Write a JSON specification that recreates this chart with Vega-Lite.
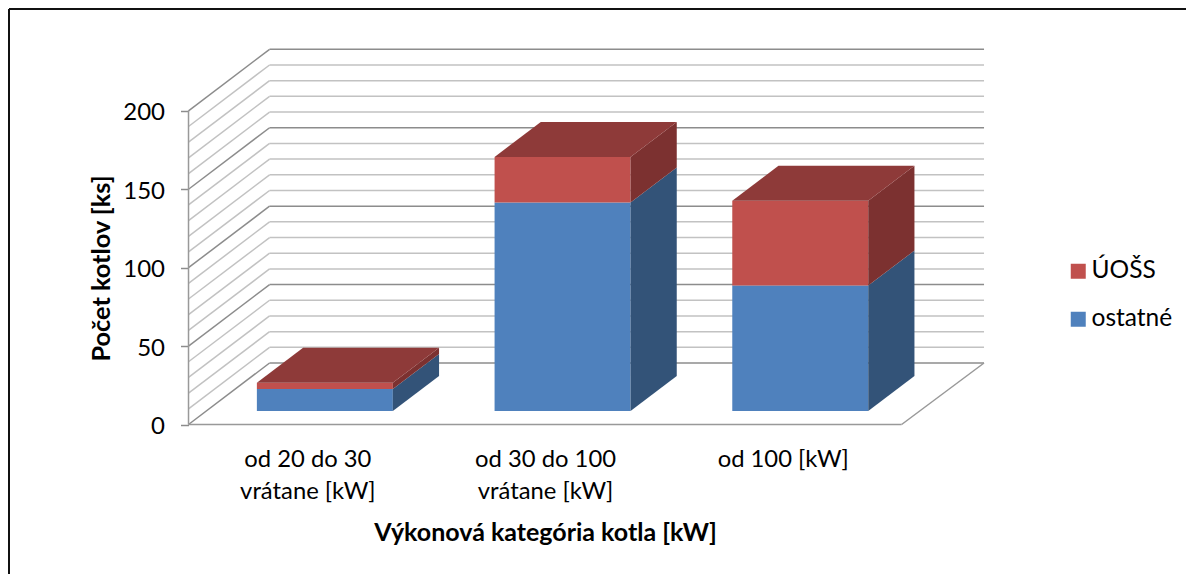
{
"$schema":"https://vega.github.io/schema/vega-lite/v6.json",
"width":1177,"height":565,
"autosize":{"type":"none"},
"padding":{"left":9,"top":9,"right":0,"bottom":0},
"background":"white",
"config":{"view":{"stroke":null},"font":"Lato"},
"datasets":{
"kotly":[
{"kat":"od 20 do 30 vrátane [kW]","serie":"ostatné","pocet":14},
{"kat":"od 20 do 30 vrátane [kW]","serie":"ÚOŠS","pocet":4},
{"kat":"od 30 do 100 vrátane [kW]","serie":"ostatné","pocet":133},
{"kat":"od 30 do 100 vrátane [kW]","serie":"ÚOŠS","pocet":29},
{"kat":"od 100 [kW]","serie":"ostatné","pocet":80},
{"kat":"od 100 [kW]","serie":"ÚOŠS","pocet":54}],
"mriezka":[{"v":0},{"v":10},{"v":20},{"v":30},{"v":40},{"v":50},{"v":60},{"v":70},{"v":80},{"v":90},{"v":100},{"v":110},{"v":120},{"v":130},{"v":140},{"v":150},{"v":160},{"v":170},{"v":180},{"v":190},{"v":200}]
},
"encoding":{
"x":{"field":"xa","type":"quantitative","scale":{"domain":[-0.7552,4.1964],"nice":false,"zero":false},
"axis":{"values":[0.5,1.5,2.5],"labelExpr":"datum.value==0.5?['od 20 do 30','vrátane [kW]']:datum.value==1.5?['od 30 do 100','vrátane [kW]']:'od 100 [kW]'","orient":"bottom","offset":-149.5,"ticks":false,"domain":false,"grid":false,"labelFontSize":23.8,"labelColor":"#000000","labelPadding":23,"labelLineHeight":32,"labelBaseline":"top","labelFlush":false,"title":"Výkonová kategória kotla [kW]","titleFontSize":25,"titleFontWeight":"bold","titleColor":"#000000","titleX":536,"titleY":96,"titleAnchor":"middle"}},
"y":{"field":"ya","type":"quantitative","scale":{"domain":[-95.31,264.9],"nice":false,"zero":false},
"axis":{"values":[0,50,100,150,200],"orient":"left","offset":-179.5,"domain":false,"grid":false,"tickColor":"#8c8c8c","tickWidth":1.5,"tickSize":8,"labelFontSize":24,"labelColor":"#000000","labelPadding":16,"labelOffset":2,"title":"Počet kotlov [ks]","titleFontSize":25.3,"titleFontWeight":"bold","titleColor":"#000000","titleX":-74,"titleY":259,"titleAngle":-90,"titleAnchor":"middle"}}
},
"layer":[
{"data":{"name":"mriezka"},
"transform":[{"calculate":"0","as":"xa"},{"calculate":"0.341","as":"xb"},{"calculate":"datum.v","as":"ya"},{"calculate":"datum.v+39.2","as":"yb"}],
"mark":{"type":"rule","strokeWidth":1.5},
"encoding":{"x2":{"field":"xb"},"y2":{"field":"yb"},"stroke":{"condition":{"test":"datum.v%50==0","value":"#8c8c8c"},"value":"#c2c2c2"}}},
{"data":{"name":"mriezka"},
"transform":[{"calculate":"0.341","as":"xa"},{"calculate":"3.3467","as":"xb"},{"calculate":"datum.v+39.2","as":"ya"}],
"mark":{"type":"rule","strokeWidth":1.5},
"encoding":{"x2":{"field":"xb"},"stroke":{"condition":{"test":"datum.v%50==0","value":"#8c8c8c"},"value":"#c2c2c2"}}},
{"data":{"name":"mriezka"},
"transform":[{"filter":"datum.v==0"},{"calculate":"0","as":"xa"},{"calculate":"0","as":"ya"},{"calculate":"200","as":"yb"}],
"mark":{"type":"rule","strokeWidth":1.5,"color":"#999999"},
"encoding":{"y2":{"field":"yb"}}},
{"data":{"name":"mriezka"},
"transform":[{"filter":"datum.v==0"},{"calculate":"0","as":"xa"},{"calculate":"3","as":"xb"},{"calculate":"0","as":"ya"}],
"mark":{"type":"rule","strokeWidth":1.5,"color":"#999999"},
"encoding":{"x2":{"field":"xb"}}},
{"data":{"name":"mriezka"},
"transform":[{"filter":"datum.v==0"},{"calculate":"3","as":"xa"},{"calculate":"3.3467","as":"xb"},{"calculate":"0","as":"ya"},{"calculate":"39.2","as":"yb"}],
"mark":{"type":"rule","strokeWidth":1.5,"color":"#999999"},
"encoding":{"x2":{"field":"xb"},"y2":{"field":"yb"}}},
{"data":{"name":"kotly"},
"transform":[{"stack":"pocet","groupby":["kat"],"sort":[{"field":"serie","order":"ascending"}],"as":["s0","s1"]},
{"calculate":"indexof(['od 20 do 30 vrátane [kW]','od 30 do 100 vrátane [kW]','od 100 [kW]'],datum.kat)+0.2876","as":"xa"},{"calculate":"datum.xa+0.572","as":"xb"},{"calculate":"datum.s0+8.6","as":"ya"},{"calculate":"datum.s1+8.6","as":"yb"}],
"mark":{"type":"rect"},
"encoding":{"x2":{"field":"xb"},"y2":{"field":"yb"},
"color":{"field":"serie","type":"nominal","scale":{"domain":["ÚOŠS","ostatné"],"range":["#C0504D","#4F81BD"]},
"legend":{"orient":"none","legendX":1057,"legendY":250,"title":null,"symbolType":"square","symbolSize":225,"symbolStrokeWidth":0,"labelFontSize":24.5,"labelColor":"#000000","labelOffset":1,"rowPadding":23}}}},
{"data":{"name":"kotly"},
"transform":[{"stack":"pocet","groupby":["kat"],"sort":[{"field":"serie","order":"ascending"}],"as":["s0","s1"]},
{"filter":"datum.serie=='ostatné'"},
{"calculate":"[0,1]","as":"d"},{"flatten":["d"]},
{"calculate":"indexof(['od 20 do 30 vrátane [kW]','od 30 do 100 vrátane [kW]','od 100 [kW]'],datum.kat)+0.8596+datum.d*0.1944","as":"xa"},{"calculate":"datum.s0+8.6+datum.d*22.3","as":"ya"},{"calculate":"datum.s1+8.6+datum.d*22.3","as":"yb"}],
"mark":{"type":"area","color":"#335378","orient":"vertical"},
"encoding":{"y2":{"field":"yb"},"detail":{"field":"kat"}}},
{"data":{"name":"kotly"},
"transform":[{"stack":"pocet","groupby":["kat"],"sort":[{"field":"serie","order":"ascending"}],"as":["s0","s1"]},
{"filter":"datum.serie=='ÚOŠS'"},
{"calculate":"[0,1]","as":"d"},{"flatten":["d"]},
{"calculate":"indexof(['od 20 do 30 vrátane [kW]','od 30 do 100 vrátane [kW]','od 100 [kW]'],datum.kat)+0.8596+datum.d*0.1944","as":"xa"},{"calculate":"datum.s0+8.6+datum.d*22.3","as":"ya"},{"calculate":"datum.s1+8.6+datum.d*22.3","as":"yb"}],
"mark":{"type":"area","color":"#7C3130","orient":"vertical"},
"encoding":{"y2":{"field":"yb"},"detail":{"field":"kat"}}},
{"data":{"name":"kotly"},
"transform":[{"stack":"pocet","groupby":["kat"],"sort":[{"field":"serie","order":"ascending"}],"as":["s0","s1"]},
{"filter":"datum.serie=='ÚOŠS'"},
{"calculate":"[0,1]","as":"d"},{"flatten":["d"]},
{"calculate":"indexof(['od 20 do 30 vrátane [kW]','od 30 do 100 vrátane [kW]','od 100 [kW]'],datum.kat)+0.2876+datum.d*0.1944","as":"xa"},{"calculate":"datum.xa+0.572","as":"xb"},{"calculate":"datum.s1+8.6+datum.d*22.3","as":"ya"}],
"mark":{"type":"area","color":"#8E3A39","orient":"horizontal"},
"encoding":{"x2":{"field":"xb"},"detail":{"field":"kat"}}},
{"data":{"name":"mriezka"},
"transform":[{"filter":"datum.v==0"},{"calculate":"-0.7552","as":"xa"},{"calculate":"-95.31","as":"ya"},{"calculate":"264.9","as":"yb"}],
"mark":{"type":"rule","strokeWidth":2,"color":"#111111"},
"encoding":{"y2":{"field":"yb"}}},
{"data":{"name":"mriezka"},
"transform":[{"filter":"datum.v==0"},{"calculate":"-0.7552","as":"xa"},{"calculate":"4.1964","as":"xb"},{"calculate":"264.9","as":"ya"}],
"mark":{"type":"rule","strokeWidth":2,"color":"#111111"},
"encoding":{"x2":{"field":"xb"}}}
]
}
